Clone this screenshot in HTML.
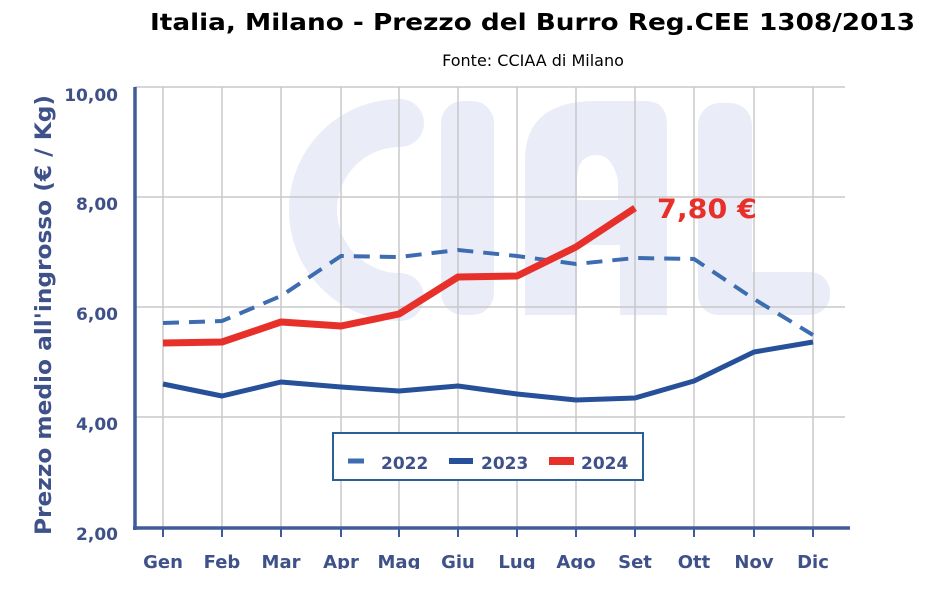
<!DOCTYPE html>
<html><head><meta charset="utf-8"><style>html,body{margin:0;padding:0;background:#fff}svg{display:block}</style></head>
<body>
<svg width="938" height="606" viewBox="0 0 938 606" xmlns="http://www.w3.org/2000/svg" font-family="DejaVu Sans, Verdana, sans-serif">
<defs><clipPath id="cl"><rect x="0" y="0" width="938" height="569"/></clipPath></defs>
<text x="150" y="30" textLength="765" lengthAdjust="spacingAndGlyphs" font-size="23" font-weight="bold" fill="#000">Italia, Milano - Prezzo del Burro Reg.CEE 1308/2013</text>
<text x="533" y="66" text-anchor="middle" font-size="16" fill="#000">Fonte: CCIAA di Milano</text>
<g fill="#eaedf8">
<path d="M400 123 A87 87 0 1 0 400 297" fill="none" stroke="#eaedf8" stroke-width="48" stroke-linecap="round"/>
<rect x="441" y="101" width="53" height="214" rx="22"/>
<path d="M525 315 L525 160 Q525 101 596 101 L645 101 Q667 101 667 125 L667 315 Q667 315 645 315 L620 315 L620 245 L577 245 L577 315 Z M577 200 L618 200 L618 180 Q612 155 597 155 Q577 155 577 180 Z" fill-rule="evenodd"/>
<rect x="698" y="103" width="54" height="212" rx="22"/>
<rect x="698" y="272" width="132" height="43" rx="20"/>
</g>
<g stroke="#c8c8c8" stroke-width="1.5">
<line x1="135" y1="87" x2="845" y2="87"/><line x1="135" y1="197" x2="845" y2="197"/><line x1="135" y1="307" x2="845" y2="307"/><line x1="135" y1="417" x2="845" y2="417"/>
<line x1="163" y1="87" x2="163" y2="527"/><line x1="222" y1="87" x2="222" y2="527"/><line x1="281" y1="87" x2="281" y2="527"/><line x1="341" y1="87" x2="341" y2="527"/><line x1="399" y1="87" x2="399" y2="527"/><line x1="458" y1="87" x2="458" y2="527"/><line x1="517" y1="87" x2="517" y2="527"/><line x1="576" y1="87" x2="576" y2="527"/><line x1="635" y1="87" x2="635" y2="527"/><line x1="694" y1="87" x2="694" y2="527"/><line x1="754" y1="87" x2="754" y2="527"/><line x1="813" y1="87" x2="813" y2="527"/>
</g>
<g stroke="#3f5b98">
<line x1="135" y1="87" x2="135" y2="530" stroke-width="3.5"/>
<line x1="133" y1="528" x2="850" y2="528" stroke-width="3.5"/>
<g stroke-width="2"><line x1="163" y1="528" x2="163" y2="537"/><line x1="222" y1="528" x2="222" y2="537"/><line x1="281" y1="528" x2="281" y2="537"/><line x1="341" y1="528" x2="341" y2="537"/><line x1="399" y1="528" x2="399" y2="537"/><line x1="458" y1="528" x2="458" y2="537"/><line x1="517" y1="528" x2="517" y2="537"/><line x1="576" y1="528" x2="576" y2="537"/><line x1="635" y1="528" x2="635" y2="537"/><line x1="694" y1="528" x2="694" y2="537"/><line x1="754" y1="528" x2="754" y2="537"/><line x1="813" y1="528" x2="813" y2="537"/></g>
</g>
<g fill="#3f5189" font-weight="bold" font-size="17" text-anchor="end">
<text x="118" y="101">10,00</text><text x="118" y="210">8,00</text><text x="118" y="320">6,00</text><text x="118" y="430">4,00</text><text x="118" y="540">2,00</text>
</g>
<text transform="translate(51,535) rotate(-90)" textLength="440" lengthAdjust="spacingAndGlyphs" fill="#3f5189" font-weight="bold" font-size="22">Prezzo medio all'ingrosso (€ / Kg)</text>
<g clip-path="url(#cl)" fill="#3f5189" font-weight="bold" font-size="18" text-anchor="middle">
<text x="163" y="568">Gen</text><text x="222" y="568">Feb</text><text x="281" y="568">Mar</text><text x="341" y="568">Apr</text><text x="399" y="568">Mag</text><text x="458" y="568">Giu</text><text x="517" y="568">Lug</text><text x="576" y="568">Ago</text><text x="635" y="568">Set</text><text x="694" y="568">Ott</text><text x="754" y="568">Nov</text><text x="813" y="568">Dic</text>
</g>
<polyline fill="none" stroke="#3d6db0" stroke-width="4" stroke-dasharray="16,10" points="163,323 222,321 281,296 341,256 399,257 458,250 517,256 576,264 635,258 694,259 754,299 813,335"/>
<polyline fill="none" stroke="#27509a" stroke-width="5" stroke-linejoin="round" points="163,384 222,396 281,382 341,387 399,391 458,386 517,394 576,400 635,398 694,381 754,352 813,342"/>
<polyline fill="none" stroke="#e8302a" stroke-width="7" stroke-linejoin="round" points="163,343 222,342 281,322 341,326 399,314 458,277 517,276 576,247 635,208"/>
<text x="657" y="218" textLength="100" lengthAdjust="spacingAndGlyphs" fill="#e8302a" font-weight="bold" font-size="27">7,80 €</text>
<rect x="333" y="433" width="310" height="47" fill="#fff" stroke="#2a6095" stroke-width="2"/>
<line x1="348" y1="461" x2="364" y2="461" stroke="#3d6db0" stroke-width="5"/>
<line x1="449" y1="461" x2="473" y2="461" stroke="#27509a" stroke-width="6"/>
<line x1="549" y1="461" x2="574" y2="461" stroke="#e8302a" stroke-width="8"/>
<g fill="#3f5189" font-weight="bold" font-size="17">
<text x="381" y="469">2022</text><text x="481" y="469">2023</text><text x="581" y="469">2024</text>
</g>
</svg>
</body></html>
